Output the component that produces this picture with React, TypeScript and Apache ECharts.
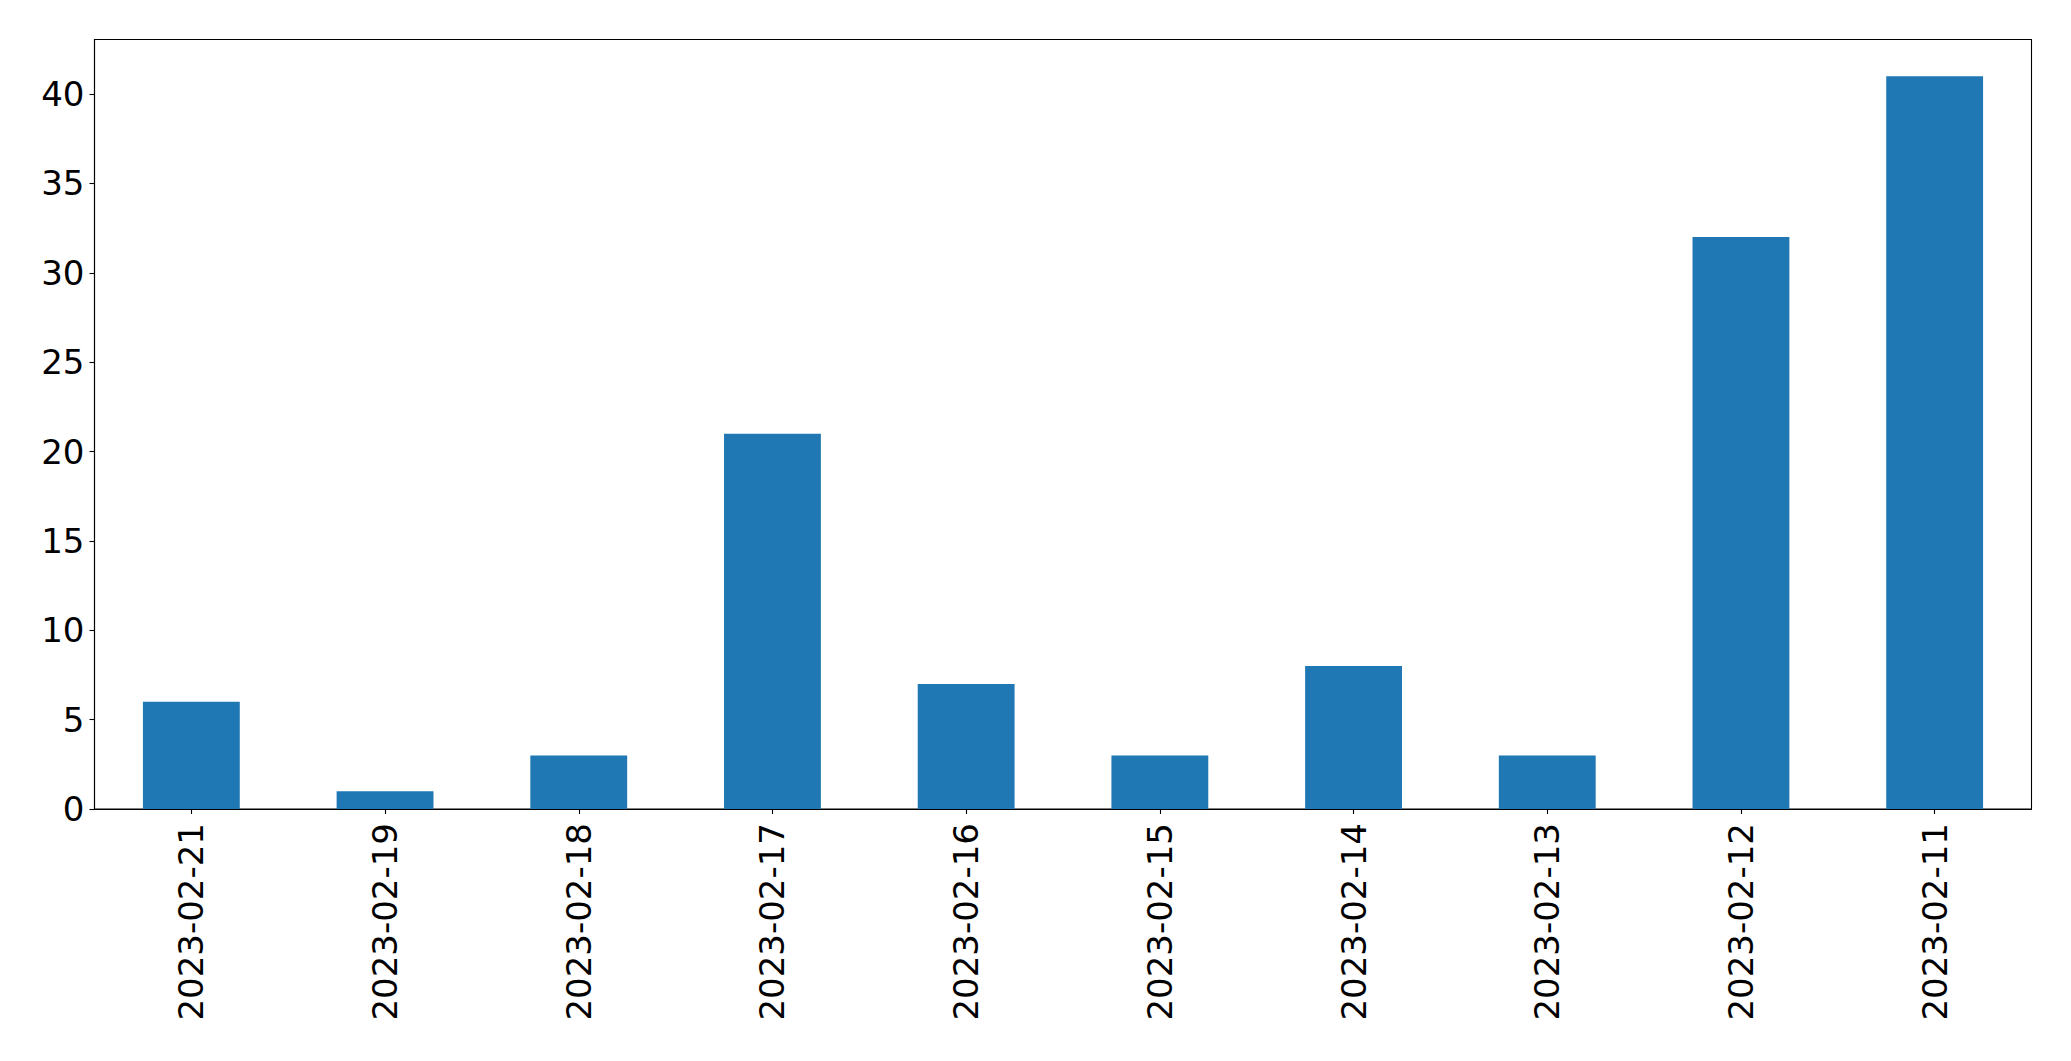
import React, { useEffect, useRef } from "react";
import * as echarts from "echarts";

const categories = [
  "2023-02-21",
  "2023-02-19",
  "2023-02-18",
  "2023-02-17",
  "2023-02-16",
  "2023-02-15",
  "2023-02-14",
  "2023-02-13",
  "2023-02-12",
  "2023-02-11",
];
const values = [6, 1, 3, 21, 7, 3, 8, 3, 32, 41];
const yMax = 43.05;
const yInterval = 5;

export default function App() {
  const ref = useRef<HTMLDivElement>(null);
  useEffect(() => {
    if (!ref.current) return;
    const chart = echarts.init(ref.current, null, { renderer: "svg" });
    const font = "DejaVu Sans";
    chart.setOption({
      animation: false,
      backgroundColor: "#ffffff",
      grid: {
        left: 94.5,
        top: 39.5,
        right: 39.5,
        bottom: 252,
        show: true,
        borderColor: "#000000",
        borderWidth: 1.1,
        backgroundColor: "transparent",
      },
      xAxis: {
        type: "category",
        data: categories,
        boundaryGap: true,
        axisLine: { show: true, lineStyle: { color: "#000000", width: 1.1 } },
        axisTick: { show: true, alignWithLabel: true, length: 5, lineStyle: { color: "#000000", width: 1.1 } },
        axisLabel: {
          rotate: 90,
          margin: 14,
          color: "#000000",
          fontFamily: font,
          fontSize: 34,
          interval: 0,
        },
        splitLine: { show: false },
      },
      yAxis: {
        type: "value",
        min: 0,
        max: yMax,
        interval: yInterval,
        axisLine: { show: true, lineStyle: { color: "#000000", width: 1.1 } },
        axisTick: { show: true, length: 5, lineStyle: { color: "#000000", width: 1.1 } },
        axisLabel: {
          margin: 10,
          color: "#000000",
          fontFamily: font,
          fontSize: 34,
          showMaxLabel: false,
          formatter: (v: number) => (Math.abs(v % yInterval) < 1e-9 ? String(v) : ""),
        },
        splitLine: { show: false },
      },
      series: [
        {
          type: "bar",
          data: values,
          barWidth: "50%",
          itemStyle: { color: "#1f77b4" },
        },
      ],
    });
    return () => chart.dispose();
  }, []);
  return (
    <div
      ref={ref}
      style={{ position: "fixed", left: 0, top: 0, width: 2071, height: 1061, background: "#fff" }}
    />
  );
}
